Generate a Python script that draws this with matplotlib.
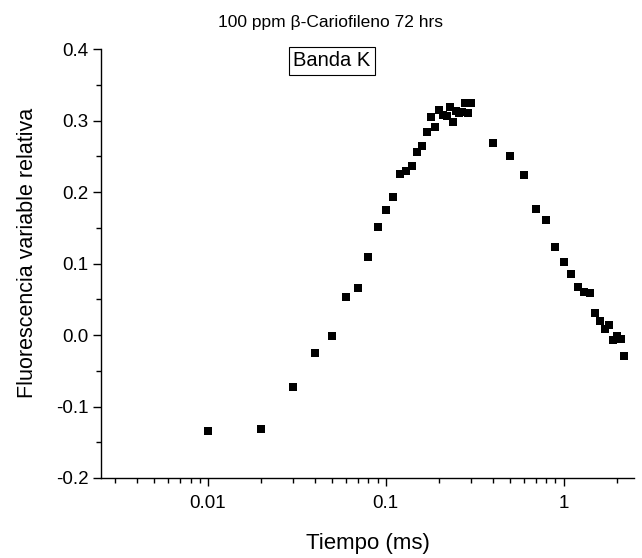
import numpy as np
import matplotlib
matplotlib.use('Agg')
import matplotlib.pyplot as plt
from matplotlib.ticker import MultipleLocator, LogLocator, FixedLocator, NullFormatter

plt.rcParams['font.family'] = ['Liberation Sans', 'DejaVu Sans']

# tiempo (ms) y fluorescencia variable relativa
tiempo = [0.01, 0.02, 0.03, 0.04, 0.05, 0.06, 0.07, 0.08, 0.09, 0.1,
          0.11, 0.12, 0.13, 0.14, 0.15, 0.16, 0.17, 0.18, 0.19, 0.2,
          0.21, 0.22, 0.23, 0.24, 0.25, 0.26, 0.27, 0.28, 0.29, 0.3,
          0.4, 0.5, 0.6, 0.7, 0.8, 0.9, 1.0, 1.1, 1.2, 1.3,
          1.4, 1.5, 1.6, 1.7, 1.8, 1.9, 2.0, 2.1, 2.2]
fluorescencia = [-0.134, -0.131, -0.073, -0.025, -0.001, 0.053, 0.066, 0.109, 0.151, 0.175,
                 0.193, 0.225, 0.229, 0.236, 0.256, 0.264, 0.284, 0.305, 0.291, 0.315,
                 0.308, 0.306, 0.319, 0.298, 0.313, 0.310, 0.312, 0.324, 0.310, 0.324,
                 0.268, 0.250, 0.224, 0.176, 0.161, 0.123, 0.102, 0.085, 0.067, 0.060,
                 0.059, 0.031, 0.020, 0.008, 0.014, -0.007, -0.001, -0.006, -0.029]

fig = plt.figure(figsize=(6.42, 5.58), dpi=100)
ax = fig.add_axes([0.157, 0.1434, 0.831, 0.7686])

ax.plot(tiempo, fluorescencia, 's', color='black', markersize=6.3, markeredgewidth=0)

ax.set_xscale('log')
ax.set_xlim(0.0025, 2.5)
ax.set_ylim(-0.2, 0.4)

ax.xaxis.set_major_locator(FixedLocator([0.01, 0.1, 1]))
ax.set_xticklabels(['0.01', '0.1', '1'])
ax.xaxis.set_minor_locator(LogLocator(base=10, subs=np.arange(2, 10)))
ax.xaxis.set_minor_formatter(NullFormatter())
ax.yaxis.set_major_locator(MultipleLocator(0.1))
ax.yaxis.set_minor_locator(MultipleLocator(0.05))
ax.set_yticklabels(['%.1f' % v for v in ax.get_yticks()])

for s in ['top', 'right']:
    ax.spines[s].set_visible(False)
for s in ['left', 'bottom']:
    ax.spines[s].set_linewidth(1.0)

ax.tick_params(which='major', direction='out', length=6, width=1, labelsize=13.5)
ax.tick_params(axis='x', which='major', pad=6)
ax.tick_params(axis='y', which='major', pad=3)
ax.tick_params(which='minor', direction='out', length=3.5, width=1)

ax.set_xlabel('Tiempo (ms)', fontsize=16)
ax.set_ylabel('Fluorescencia variable relativa', fontsize=15.5)
ax.xaxis.set_label_coords(0.5, -0.152)
ax.yaxis.set_label_coords(-0.138, 0.525)
ax.xaxis.label.set_va('center')
ax.yaxis.label.set_va('center')

fig.text(331 / 642, 1 - 22 / 558, '100 ppm β-Cariofileno 72 hrs', ha='center', va='center', fontsize=12.5)
fig.text(332 / 642, 1 - 61 / 558, 'Banda K', ha='center', va='center', fontsize=14.5,
         bbox=dict(boxstyle='square,pad=0.2', facecolor='white', edgecolor='black', linewidth=0.8))

fig.savefig('out.png', dpi=100)
